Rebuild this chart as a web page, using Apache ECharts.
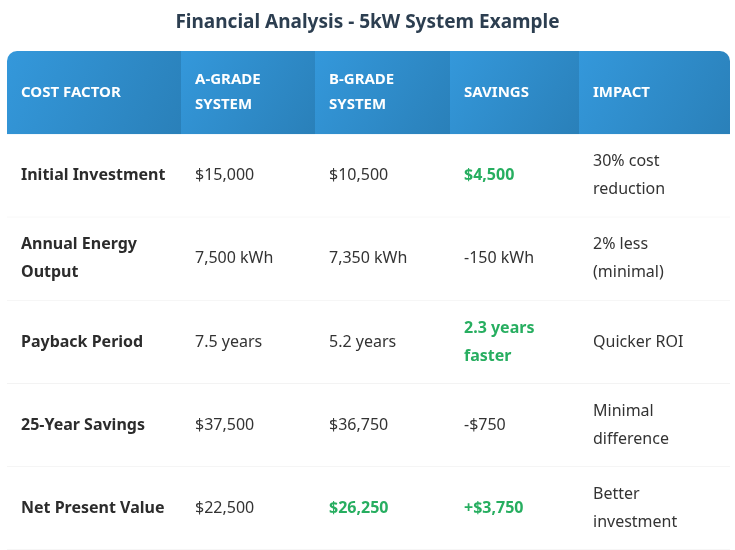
<!DOCTYPE html>
<html><head><meta charset="utf-8">
<script src="https://cdn.jsdelivr.net/npm/echarts@6/dist/echarts.min.js"></script>
<style>html,body{margin:0;padding:0;background:#fff}#c{width:735px;height:550px}</style>
</head><body><div id="c"></div>
<script>
const title = 'Financial Analysis - 5kW System Example';
const headers = ['COST FACTOR', 'A-GRADE\nSYSTEM', 'B-GRADE\nSYSTEM', 'SAVINGS', 'IMPACT'];
const factors = ['Initial Investment', 'Annual Energy\nOutput', 'Payback Period', '25-Year Savings', 'Net Present Value'];
const aGrade = ['$15,000', '7,500 kWh', '7.5 years', '$37,500', '$22,500'];
const bGrade = ['$10,500', '7,350 kWh', '5.2 years', '$36,750', '$26,250'];
const savings = ['$4,500', '-150 kWh', '2.3 years\nfaster', '-$750', '+$3,750'];
const impact = ['30% cost\nreduction', '2% less\n(minimal)', 'Quicker ROI', 'Minimal\ndifference', 'Better\ninvestment'];
// highlighted (green bold) cells as [col,row]
const highlights = [[3,0],[3,2],[2,4],[3,4]];

const colWidths = [174, 134, 135, 129, 151];
const edges = [0]; colWidths.forEach(w => edges.push(edges[edges.length-1] + w));
const total = edges[edges.length-1];

const data = [];
headers.forEach((h, c) => data.push([c, 0, h]));
const cols = [factors, aGrade, bGrade, savings, impact];
for (let r = 0; r < factors.length; r++) {
  for (let c = 0; c < cols.length; c++) data.push([c, r + 1, cols[c][r]]);
}
const font = '"Noto Sans", "Open Sans", sans-serif';

const chart = echarts.init(document.getElementById('c'));
chart.setOption({
  title: { text: title, left: 'center', top: 8, textStyle: { fontFamily: font, fontSize: 19, fontWeight: 'bold', color: '#2c3e50' } },
  grid: { left: 7, top: 51, width: total, height: 504 },
  xAxis: { type: 'value', min: 0, max: total, show: false },
  yAxis: { type: 'value', min: 0, max: 6, inverse: true, show: false },
  series: [{
    type: 'custom',
    data: data,
    encode: { x: 0, y: 1 },
    renderItem: function (params, api) {
      const c = api.value(0), r = api.value(1);
      const text = data[params.dataIndex][2];
      const p0 = api.coord([edges[c], r]);
      const p1 = api.coord([edges[c + 1], r + 1]);
      const w = p1[0] - p0[0], h = p1[1] - p0[1];
      const children = [];
      if (r === 0) {
        const rad = [c === 0 ? 10 : 0, c === 4 ? 10 : 0, 0, 0];
        children.push({ type: 'rect', shape: { x: p0[0], y: p0[1], width: w, height: h, r: rad },
          style: { fill: new echarts.graphic.LinearGradient(0, 0, 1, 1, [{ offset: 0, color: '#3498db' }, { offset: 1, color: '#2a80b9' }]) } });
        children.push({ type: 'text', style: { x: p0[0] + 14, y: p0[1] + h / 2, text: text, fill: '#fff',
          font: 'bold 15px ' + font, verticalAlign: 'middle', lineHeight: 25 } });
      } else {
        children.push({ type: 'rect', shape: { x: p0[0], y: p0[1], width: w, height: h }, style: { fill: '#fff' } });
        children.push({ type: 'line', shape: { x1: p0[0], y1: p1[1], x2: p1[0], y2: p1[1] }, style: { stroke: '#ececec', lineWidth: 1 } });
        const hl = highlights.some(q => q[0] === c && q[1] === r - 1);
        const bold = c === 0 || hl;
        children.push({ type: 'text', style: { x: p0[0] + 14, y: p0[1] + h / 2, text: text,
          fill: hl ? '#27ae60' : (c === 0 ? '#2c2c2c' : '#333'),
          font: (bold ? 'bold ' : '') + '16px ' + font, verticalAlign: 'middle', lineHeight: 28 } });
      }
      return { type: 'group', children: children };
    }
  }]
});
</script></body></html>
